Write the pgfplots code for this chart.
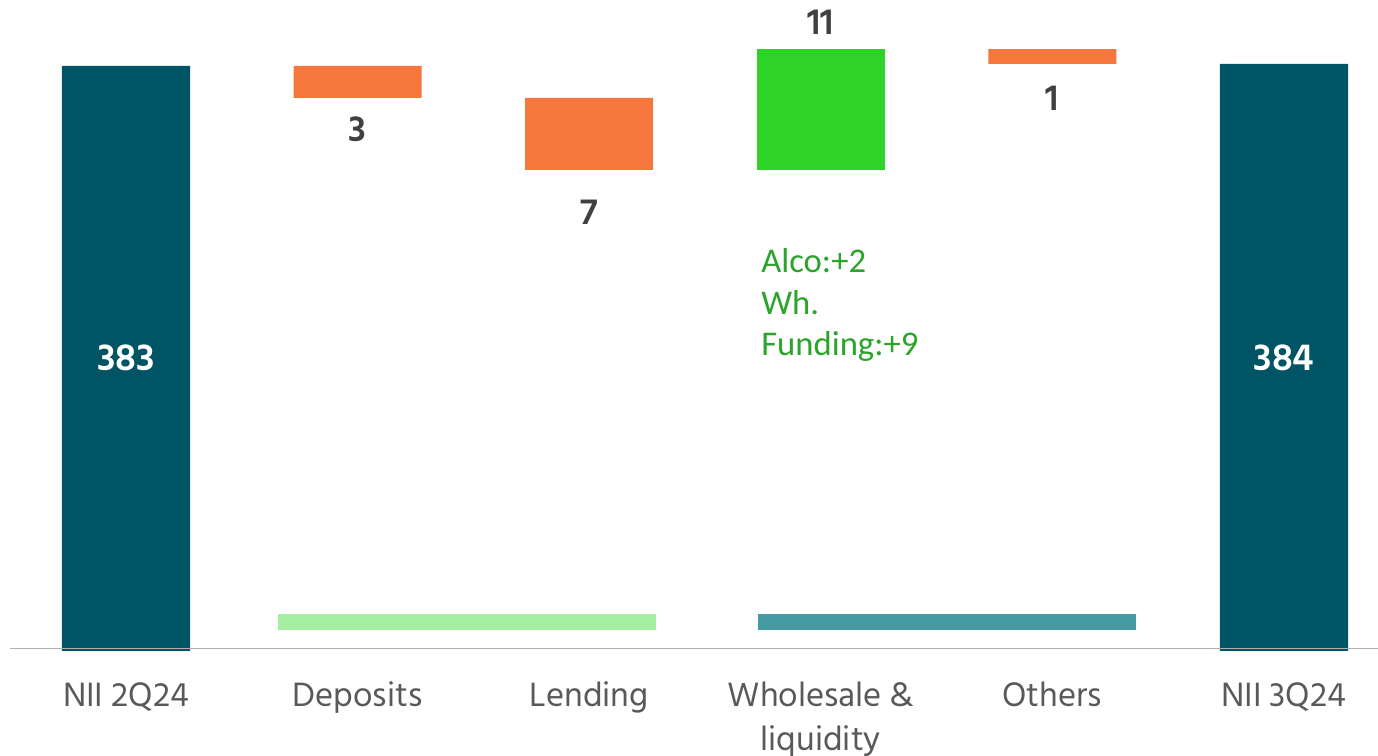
\documentclass[border=0pt]{standalone}
\usepackage{fontspec}
\setmainfont{Hind Siliguri}
\newfontfamily\calib{Carlito}
\usepackage{pgfplots}
\pgfplotsset{compat=1.18}
\definecolor{tealdark}{HTML}{005464}
\definecolor{barorange}{HTML}{F5773D}
\definecolor{bargreen}{HTML}{2DD327}
\definecolor{bandgreen}{HTML}{A3EEA0}
\definecolor{bandteal}{HTML}{4599A2}
\definecolor{numgray}{HTML}{404040}
\definecolor{catgray}{HTML}{595959}
\definecolor{annogreen}{HTML}{2AA52A}
\definecolor{axisgray}{HTML}{B0B0B0}
\tikzset{
  lbl/.style={text=numgray, font=\bfseries\fontsize{28}{28}\selectfont},
  wlbl/.style={text=white, font=\bfseries\fontsize{29}{29}\selectfont},
}
\begin{document}
\begin{tikzpicture}
\begin{axis}[
  at={(7.5pt,78.75pt)}, anchor=south west, scale only axis,
  width=1026pt, height=488.25pt,
  xmin=-0.501, xmax=5.406, ymin=328.21, ymax=389.63,
  ybar stacked, bar width=0.553,
  axis line style={draw=none},
  ytick=\empty, xtick={0,1,2,3,4,5},
  xticklabels={NII 2Q24, Deposits, Lending, {\begin{tabular}[t]{@{}c@{}}Wholesale \&\\liquidity\end{tabular}}, Others, NII 3Q24},
  major tick length=0pt,
  xticklabel style={anchor=base, yshift=-42pt,
    font=\fontsize{26}{32.5}\selectfont, text=catgray},
]
\draw[axisgray, line width=1pt] (axis cs:-0.501,328.45) -- (axis cs:5.406,328.45);
\addplot[draw=none, fill=none] coordinates {(0,0) (1,380.4) (2,373.6) (3,373.6) (4,383.6) (5,0)};
\addplot[draw=none, fill=tealdark] coordinates {(0,383.4) (1,0) (2,0) (3,0) (4,0) (5,383.6)};
\addplot[draw=none, fill=barorange] coordinates {(0,0) (1,3.0) (2,6.8) (3,0) (4,1.4) (5,0)};
\addplot[draw=none, fill=bargreen] coordinates {(0,0) (1,0) (2,0) (3,11.4) (4,0) (5,0)};
\fill[bandgreen] (axis cs:0.656,330.19) rectangle (axis cs:2.288,331.70);
\fill[bandteal] (axis cs:2.729,330.19) rectangle (axis cs:4.361,331.70);
\coordinate (pA) at (axis cs:0,355.85);
\coordinate (pB) at (axis cs:5,355.85);
\node[lbl] at (axis cs:1,377.46) {3};
\node[lbl] at (axis cs:2,369.63) {7};
\node[lbl] at (axis cs:3,387.55) {11};
\node[lbl] at (axis cs:4,380.38) {1};
\node[anchor=west, align=left, inner sep=0pt, text=annogreen,
  font=\calib\fontsize{26}{31}\selectfont] at (axis cs:2.742,360.85) {Alco:+2\\Wh.\\Funding:+9};
\end{axis}
\node[wlbl] at (pA) {383};
\node[wlbl] at (pB) {384};
\pgfresetboundingbox
\useasboundingbox (0,0) rectangle (1033.5pt,567pt);
\end{tikzpicture}
\end{document}
